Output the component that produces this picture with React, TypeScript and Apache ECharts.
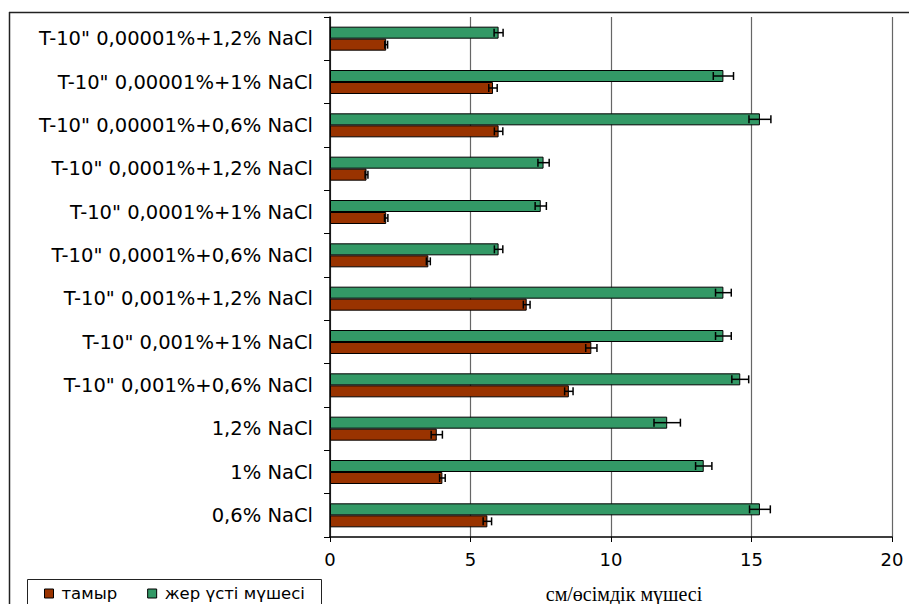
import React, { useEffect, useRef } from "react";
import * as echarts from "echarts";

const categories = [
  "0,6% NaCl",
  "1% NaCl",
  "1,2% NaCl",
  'T-10" 0,001%+0,6% NaCl',
  'T-10" 0,001%+1% NaCl',
  'T-10" 0,001%+1,2% NaCl',
  'T-10" 0,0001%+0,6% NaCl',
  'T-10" 0,0001%+1% NaCl',
  'T-10" 0,0001%+1,2% NaCl',
  'T-10" 0,00001%+0,6% NaCl',
  'T-10" 0,00001%+1% NaCl',
  'T-10" 0,00001%+1,2% NaCl',
];

const rootValues = [5.6, 4.0, 3.8, 8.5, 9.3, 7.0, 3.5, 2.0, 1.3, 6.0, 5.8, 2.0];
const rootErrors = [0.15, 0.1, 0.2, 0.15, 0.2, 0.12, 0.07, 0.06, 0.05, 0.15, 0.15, 0.05];
const shootValues = [15.3, 13.3, 12.0, 14.6, 14.0, 14.0, 6.0, 7.5, 7.6, 15.3, 14.0, 6.0];
const shootErrors = [0.37, 0.29, 0.47, 0.3, 0.28, 0.28, 0.15, 0.2, 0.2, 0.39, 0.36, 0.16];

const xTicks = { min: 0, max: 20, interval: 5 };

const rootName = "тамыр";
const shootName = "жер үсті мүшесі";
const axisTitle = "см/өсімдік мүшесі";

const FONT = "DejaVu Sans";
const BAR_W = 12;

export default function App() {
  const ref = useRef<HTMLDivElement>(null);

  useEffect(() => {
    if (!ref.current) return;
    const chart = echarts.init(ref.current, null, { renderer: "svg" });

    const errData = (vals: number[], errs: number[], side: number) =>
      vals.map((v, i) => [v, i, errs[i], side]);

    const renderErr = (params: any, api: any) => {
      const v = api.value(0);
      const i = api.value(1);
      const e = api.value(2);
      const side = api.value(3);
      const p1 = api.coord([v - e, i]);
      const p2 = api.coord([v + e, i]);
      const y = p1[1] + side * (BAR_W / 2);
      const cap = 4;
      const style = { stroke: "#000", lineWidth: 1.5 };
      return {
        type: "group",
        children: [
          { type: "line", shape: { x1: p1[0], y1: y, x2: p2[0], y2: y }, style },
          { type: "line", shape: { x1: p1[0], y1: y - cap, x2: p1[0], y2: y + cap }, style },
          { type: "line", shape: { x1: p2[0], y1: y - cap, x2: p2[0], y2: y + cap }, style },
        ],
      };
    };

    chart.setOption({
      animation: false,
      backgroundColor: "#fff",
      grid: { left: 330, right: 17, top: 17, bottom: 67, containLabel: false },
      legend: {
        data: [rootName, shootName],
        left: 44,
        top: 585,
        padding: 0,
        icon: "rect",
        itemWidth: 9,
        itemHeight: 9,
        itemGap: 30,
        itemStyle: { borderColor: "#000", borderWidth: 1 },
        textStyle: { fontFamily: FONT, fontSize: 16.5, color: "#000", padding: [0, 0, 0, 3] },
      },
      xAxis: {
        type: "value",
        min: xTicks.min,
        max: xTicks.max,
        interval: xTicks.interval,
        axisLine: { show: true, lineStyle: { color: "#000", width: 1.5 } },
        axisTick: { show: true, length: 5, lineStyle: { color: "#000" } },
        axisLabel: { fontFamily: FONT, fontSize: 18, color: "#000", margin: 13 },
        splitLine: { show: true, lineStyle: { color: "#666", width: 1.2 } },
      },
      yAxis: {
        type: "category",
        data: categories,
        axisLine: { show: true, lineStyle: { color: "#000", width: 1.5 } },
        axisTick: { show: true, length: 6, lineStyle: { color: "#000" } },
        axisLabel: { fontFamily: FONT, fontSize: 19.5, color: "#000", margin: 17 },
        splitLine: { show: false },
      },
      series: [
        {
          name: shootName,
          type: "bar",
          data: shootValues,
          barWidth: BAR_W,
          barGap: "0%",
          itemStyle: { color: "#339966", borderColor: "#000", borderWidth: 1 },
        },
        {
          name: rootName,
          type: "bar",
          data: rootValues,
          barWidth: BAR_W,
          barGap: "0%",
          itemStyle: { color: "#993300", borderColor: "#000", borderWidth: 1 },
        },
        {
          type: "custom",
          name: "errShoot",
          renderItem: renderErr,
          data: errData(shootValues, shootErrors, -1),
          encode: { x: 0, y: 1 },
          z: 10,
          silent: true,
        },
        {
          type: "custom",
          name: "errRoot",
          renderItem: renderErr,
          data: errData(rootValues, rootErrors, 1),
          encode: { x: 0, y: 1 },
          z: 10,
          silent: true,
        },
      ],
      graphic: [
        {
          type: "line",
          shape: { x1: 9, y1: 12.5, x2: 909, y2: 12.5 },
          style: { stroke: "#222", lineWidth: 1.5 },
          silent: true,
        },
        {
          type: "line",
          shape: { x1: 9.5, y1: 12, x2: 9.5, y2: 604 },
          style: { stroke: "#222", lineWidth: 1.5 },
          silent: true,
        },
        {
          type: "rect",
          shape: { x: 27.5, y: 579.5, width: 294, height: 40 },
          style: { fill: "none", stroke: "#222", lineWidth: 1 },
          silent: true,
        },
        {
          type: "text",
          x: 624,
          y: 594,
          style: {
            text: axisTitle,
            fontFamily: "Liberation Serif",
            fontSize: 20,
            fill: "#000",
            align: "center",
            verticalAlign: "middle",
          },
          silent: true,
        },
      ],
    });

    return () => chart.dispose();
  }, []);

  return (
    <div
      ref={ref}
      style={{ position: "fixed", left: 0, top: 0, width: 909, height: 604 }}
    />
  );
}
